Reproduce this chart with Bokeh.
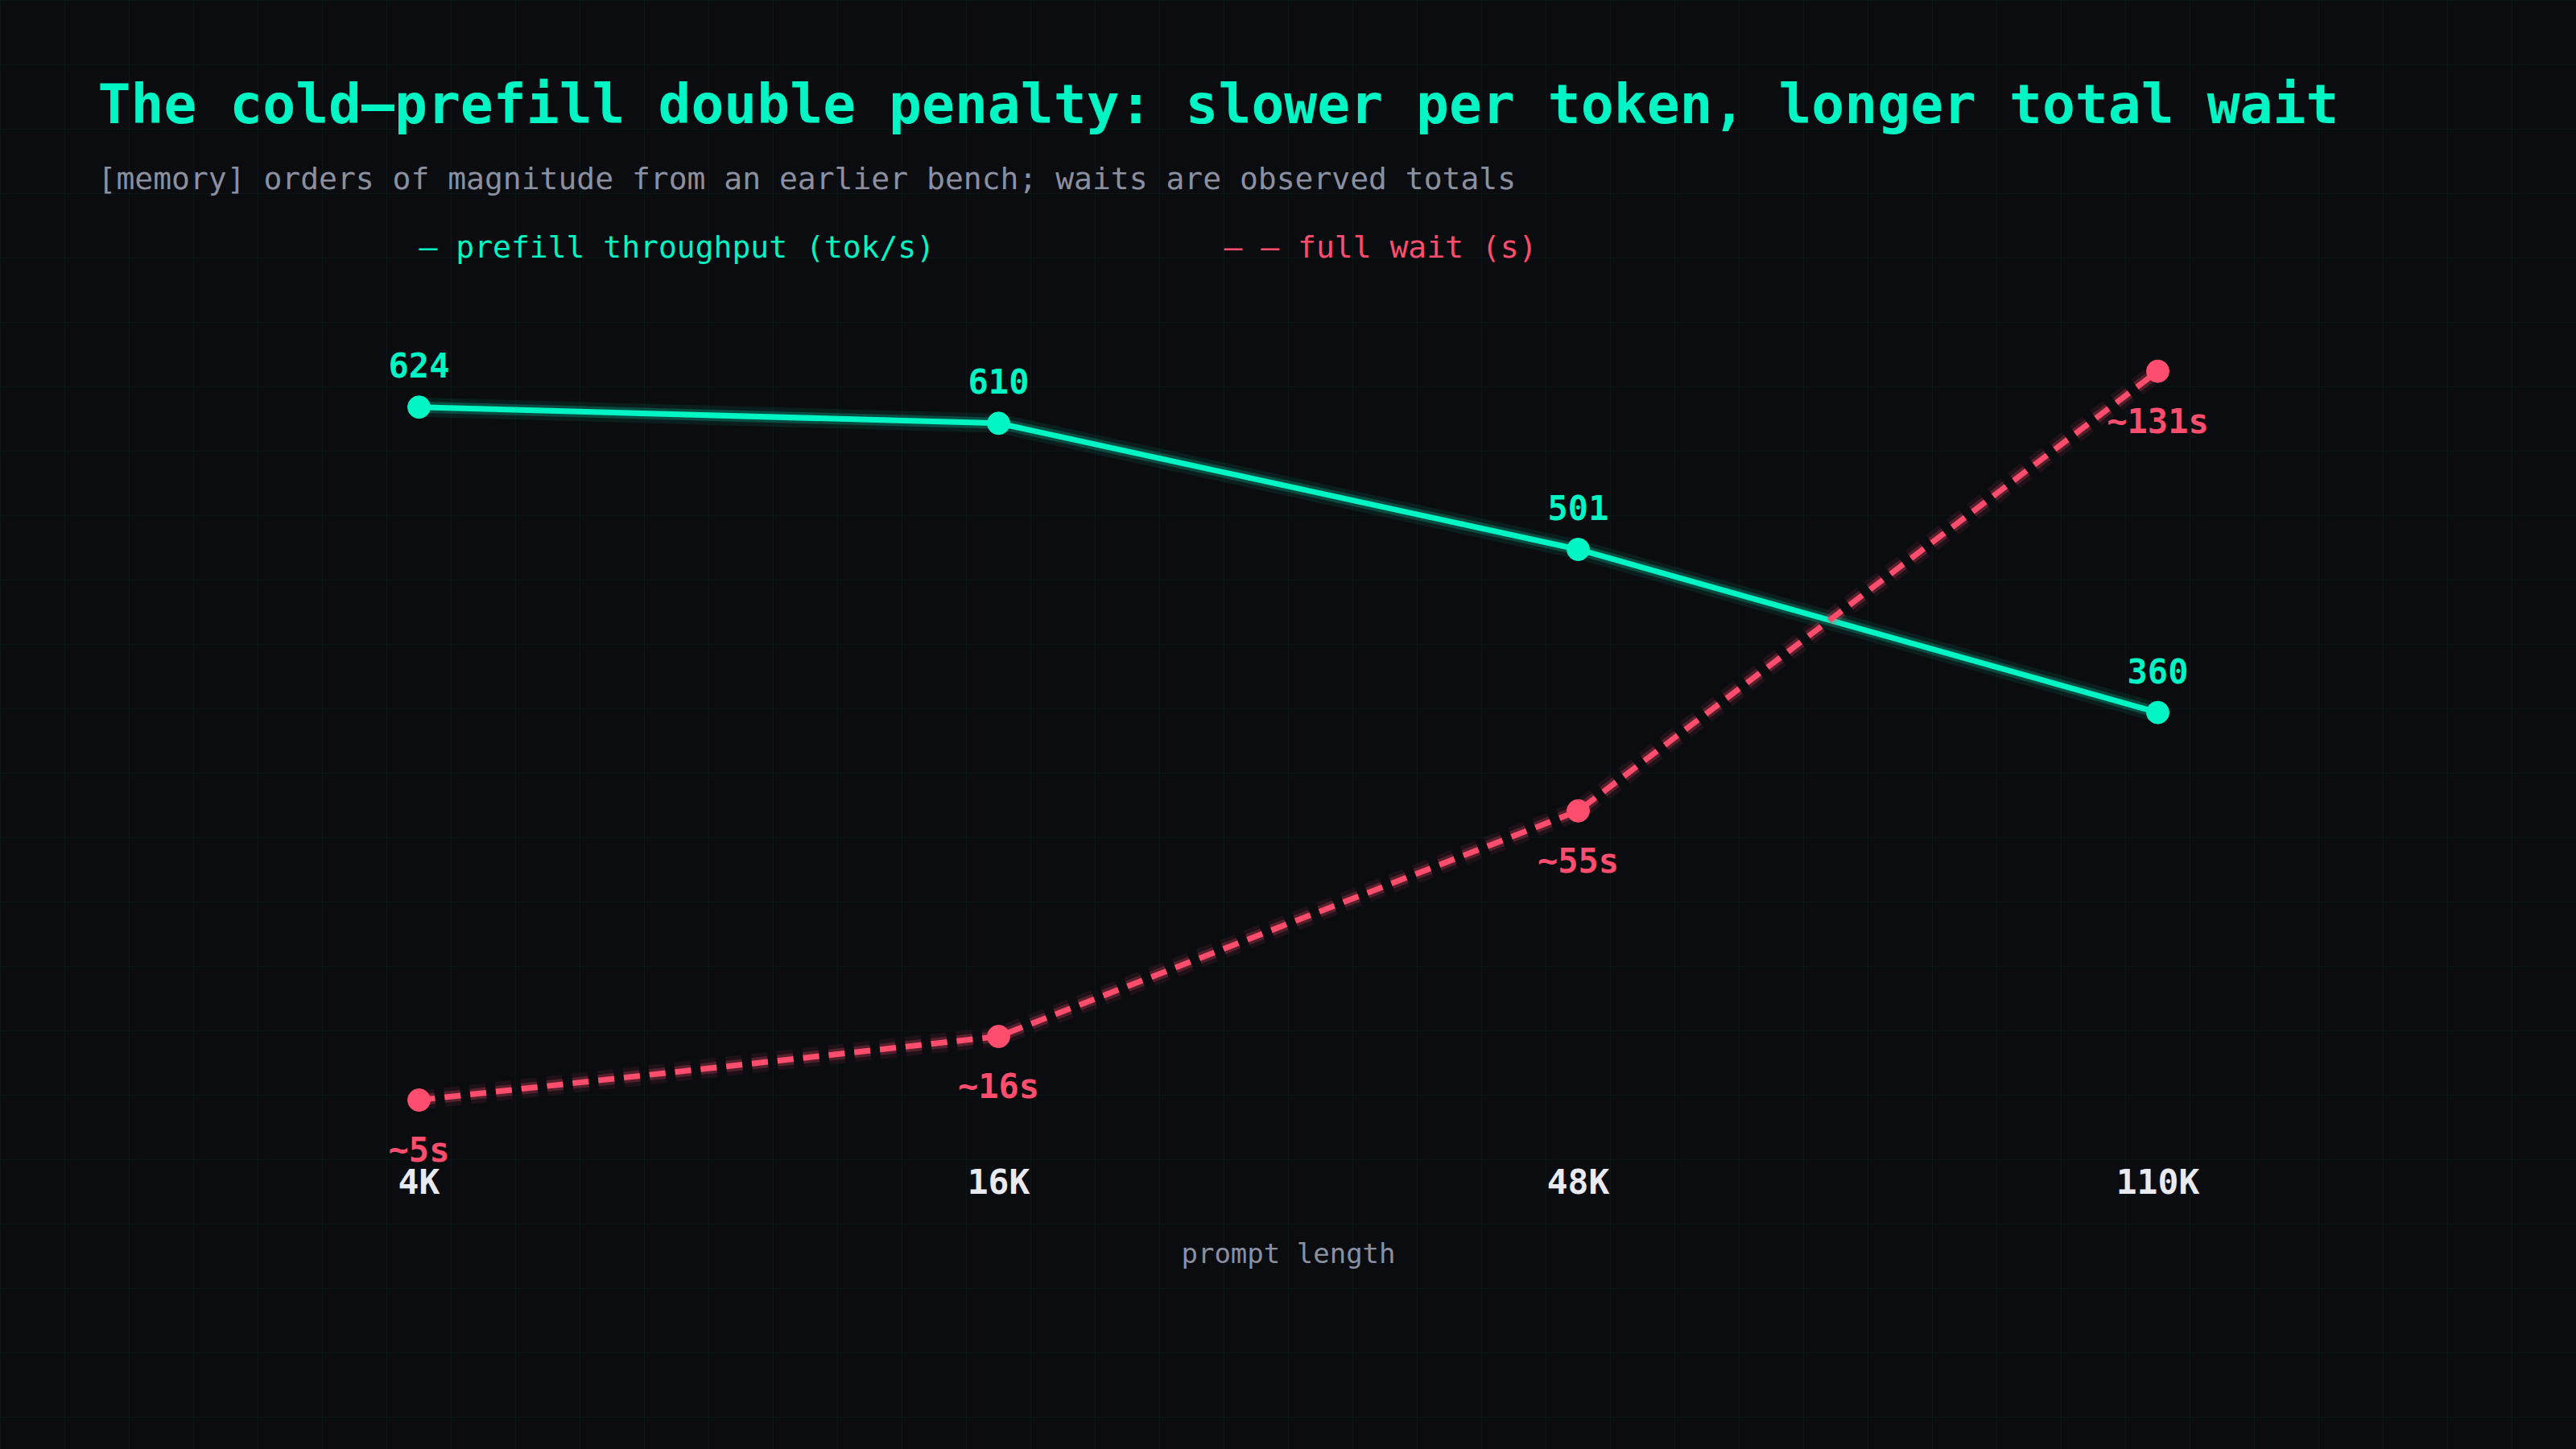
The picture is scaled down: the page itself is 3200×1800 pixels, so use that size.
# -*- coding: utf-8 -*-
# cold-prefill 雙重懲罰圖 (Bokeh 3, svg)

from bokeh.plotting import figure
from bokeh.models import ColumnDataSource, FactorRange, Range1d, Label, GlobalInlineStyleSheet
from bokeh.core.properties import value
from bokeh.embed import file_html
from bokeh.resources import INLINE

# 資料
prompt_len = ["4K", "16K", "48K", "110K"]
throughput = [624, 610, 501, 360]          # tok/s
wait_s = [5, 16, 55, 131]                  # s
tp_text = ["624", "610", "501", "360"]
wait_text = ["~5s", "~16s", "~55s", "~131s"]

MONO = "DejaVu Sans Mono"
BG = "#0b0c10"
CYAN = "#00f5c4"
PINK = "#ff4d6d"
GREY = "#8b90a0"
WHITE = "#e8eaf0"

# 版面 (px)：整張畫布就是繪圖框，折線區在 CHART_TOP ~ CHART_BOTTOM
W, H = 3200, 1800
STEP = 720                       # 類別間距
CHART_TOP, CHART_BOTTOM = 396, 1402
TP_MAX, WAIT_MAX = 700, 140

def y_range_for(vmax):
    k = (CHART_BOTTOM - CHART_TOP) / vmax
    start = -(H - CHART_BOTTOM) / k
    return Range1d(start, start + H / k)

source = ColumnDataSource(dict(x=prompt_len, tp=throughput, wait=wait_s,
                               tp_lbl=tp_text, wait_lbl=wait_text,
                               zero=[0] * len(prompt_len)))

n = len(prompt_len)
p = figure(x_range=FactorRange(factors=prompt_len, range_padding=(W / STEP - n) / n),
           y_range=y_range_for(TP_MAX),
           width=W, height=H, output_backend="svg",
           toolbar_location=None, tools="",
           x_axis_location=None, y_axis_location=None,
           min_border=0,
           background_fill_color=None, border_fill_color=None,
           outline_line_color=None)
p.extra_y_ranges = {"wait": y_range_for(WAIT_MAX)}
p.xgrid.grid_line_color = None
p.ygrid.grid_line_color = None

# 背景格線 (整頁 80px)
css = """
html, body { margin: 0; padding: 0; overflow: hidden; }
body {
  background-color: %s;
  background-image:
    linear-gradient(to right, rgba(0,245,196,0.045) 1px, transparent 1px),
    linear-gradient(to bottom, rgba(0,245,196,0.045) 1px, transparent 1px);
  background-size: 80px 80px;
}
""" % BG
p.stylesheets = [GlobalInlineStyleSheet(css=css)]

# 吞吐量 (實線 + 光暈)
p.line("x", "tp", source=source, color=CYAN, line_width=24, line_alpha=0.08)
p.line("x", "tp", source=source, color=CYAN, line_width=14, line_alpha=0.22)
p.line("x", "tp", source=source, color=CYAN, line_width=7)
p.scatter("x", "tp", source=source, size=28, color=CYAN)
p.text("x", "tp", text="tp_lbl", source=source, text_font=value(MONO),
       text_font_style="bold", text_font_size="42px", text_color=CYAN,
       text_align="center", text_baseline="middle", y_offset=-52)

# 等待時間 (虛線 + 光暈)
p.line("x", "wait", source=source, y_range_name="wait", color=PINK,
       line_width=24, line_alpha=0.08, line_dash="20 12")
p.line("x", "wait", source=source, y_range_name="wait", color=PINK,
       line_width=14, line_alpha=0.25, line_dash="20 12")
p.line("x", "wait", source=source, y_range_name="wait", color=PINK,
       line_width=7, line_dash="20 12")
p.scatter("x", "wait", source=source, y_range_name="wait", size=28, color=PINK)
p.text("x", "wait", text="wait_lbl", source=source, y_range_name="wait",
       text_font=value(MONO), text_font_style="bold", text_font_size="42px",
       text_color=PINK, text_align="center", text_baseline="middle", y_offset=62)

# 類別標籤 (放在 0 基線下方)
p.text("x", "zero", text="x", source=source, text_font=value(MONO),
       text_font_style="bold", text_font_size="43px", text_color=WHITE,
       text_align="center", text_baseline="middle", y_offset=65)

# 標題、副標、圖例文字、x 軸名稱 (screen 單位，自畫布左下起算)
def add_text(x, y, text, size, color, bold=False, align="left"):
    p.add_layout(Label(x=x, y=H - y, x_units="screen", y_units="screen", text=text,
                       text_font=MONO, text_font_style="bold" if bold else "normal",
                       text_font_size=size, text_color=color, text_align=align,
                       text_baseline="alphabetic"))

add_text(121, 129, "The cold\u2013prefill double penalty: slower per token, longer total wait",
         "68px", CYAN, bold=True)
add_text(121, 221, "[memory] orders of magnitude from an earlier bench; waits are observed totals",
         "38px", GREY)
add_text(520, 306, "\u2013 prefill throughput (tok/s)", "38px", CYAN)
add_text(1520, 306, "\u2013 \u2013 full wait (s)", "38px", PINK)
add_text(W / 2, 1556, "prompt length", "34px", GREY, align="center")

open("out.html", "w").write(file_html(p, INLINE))
